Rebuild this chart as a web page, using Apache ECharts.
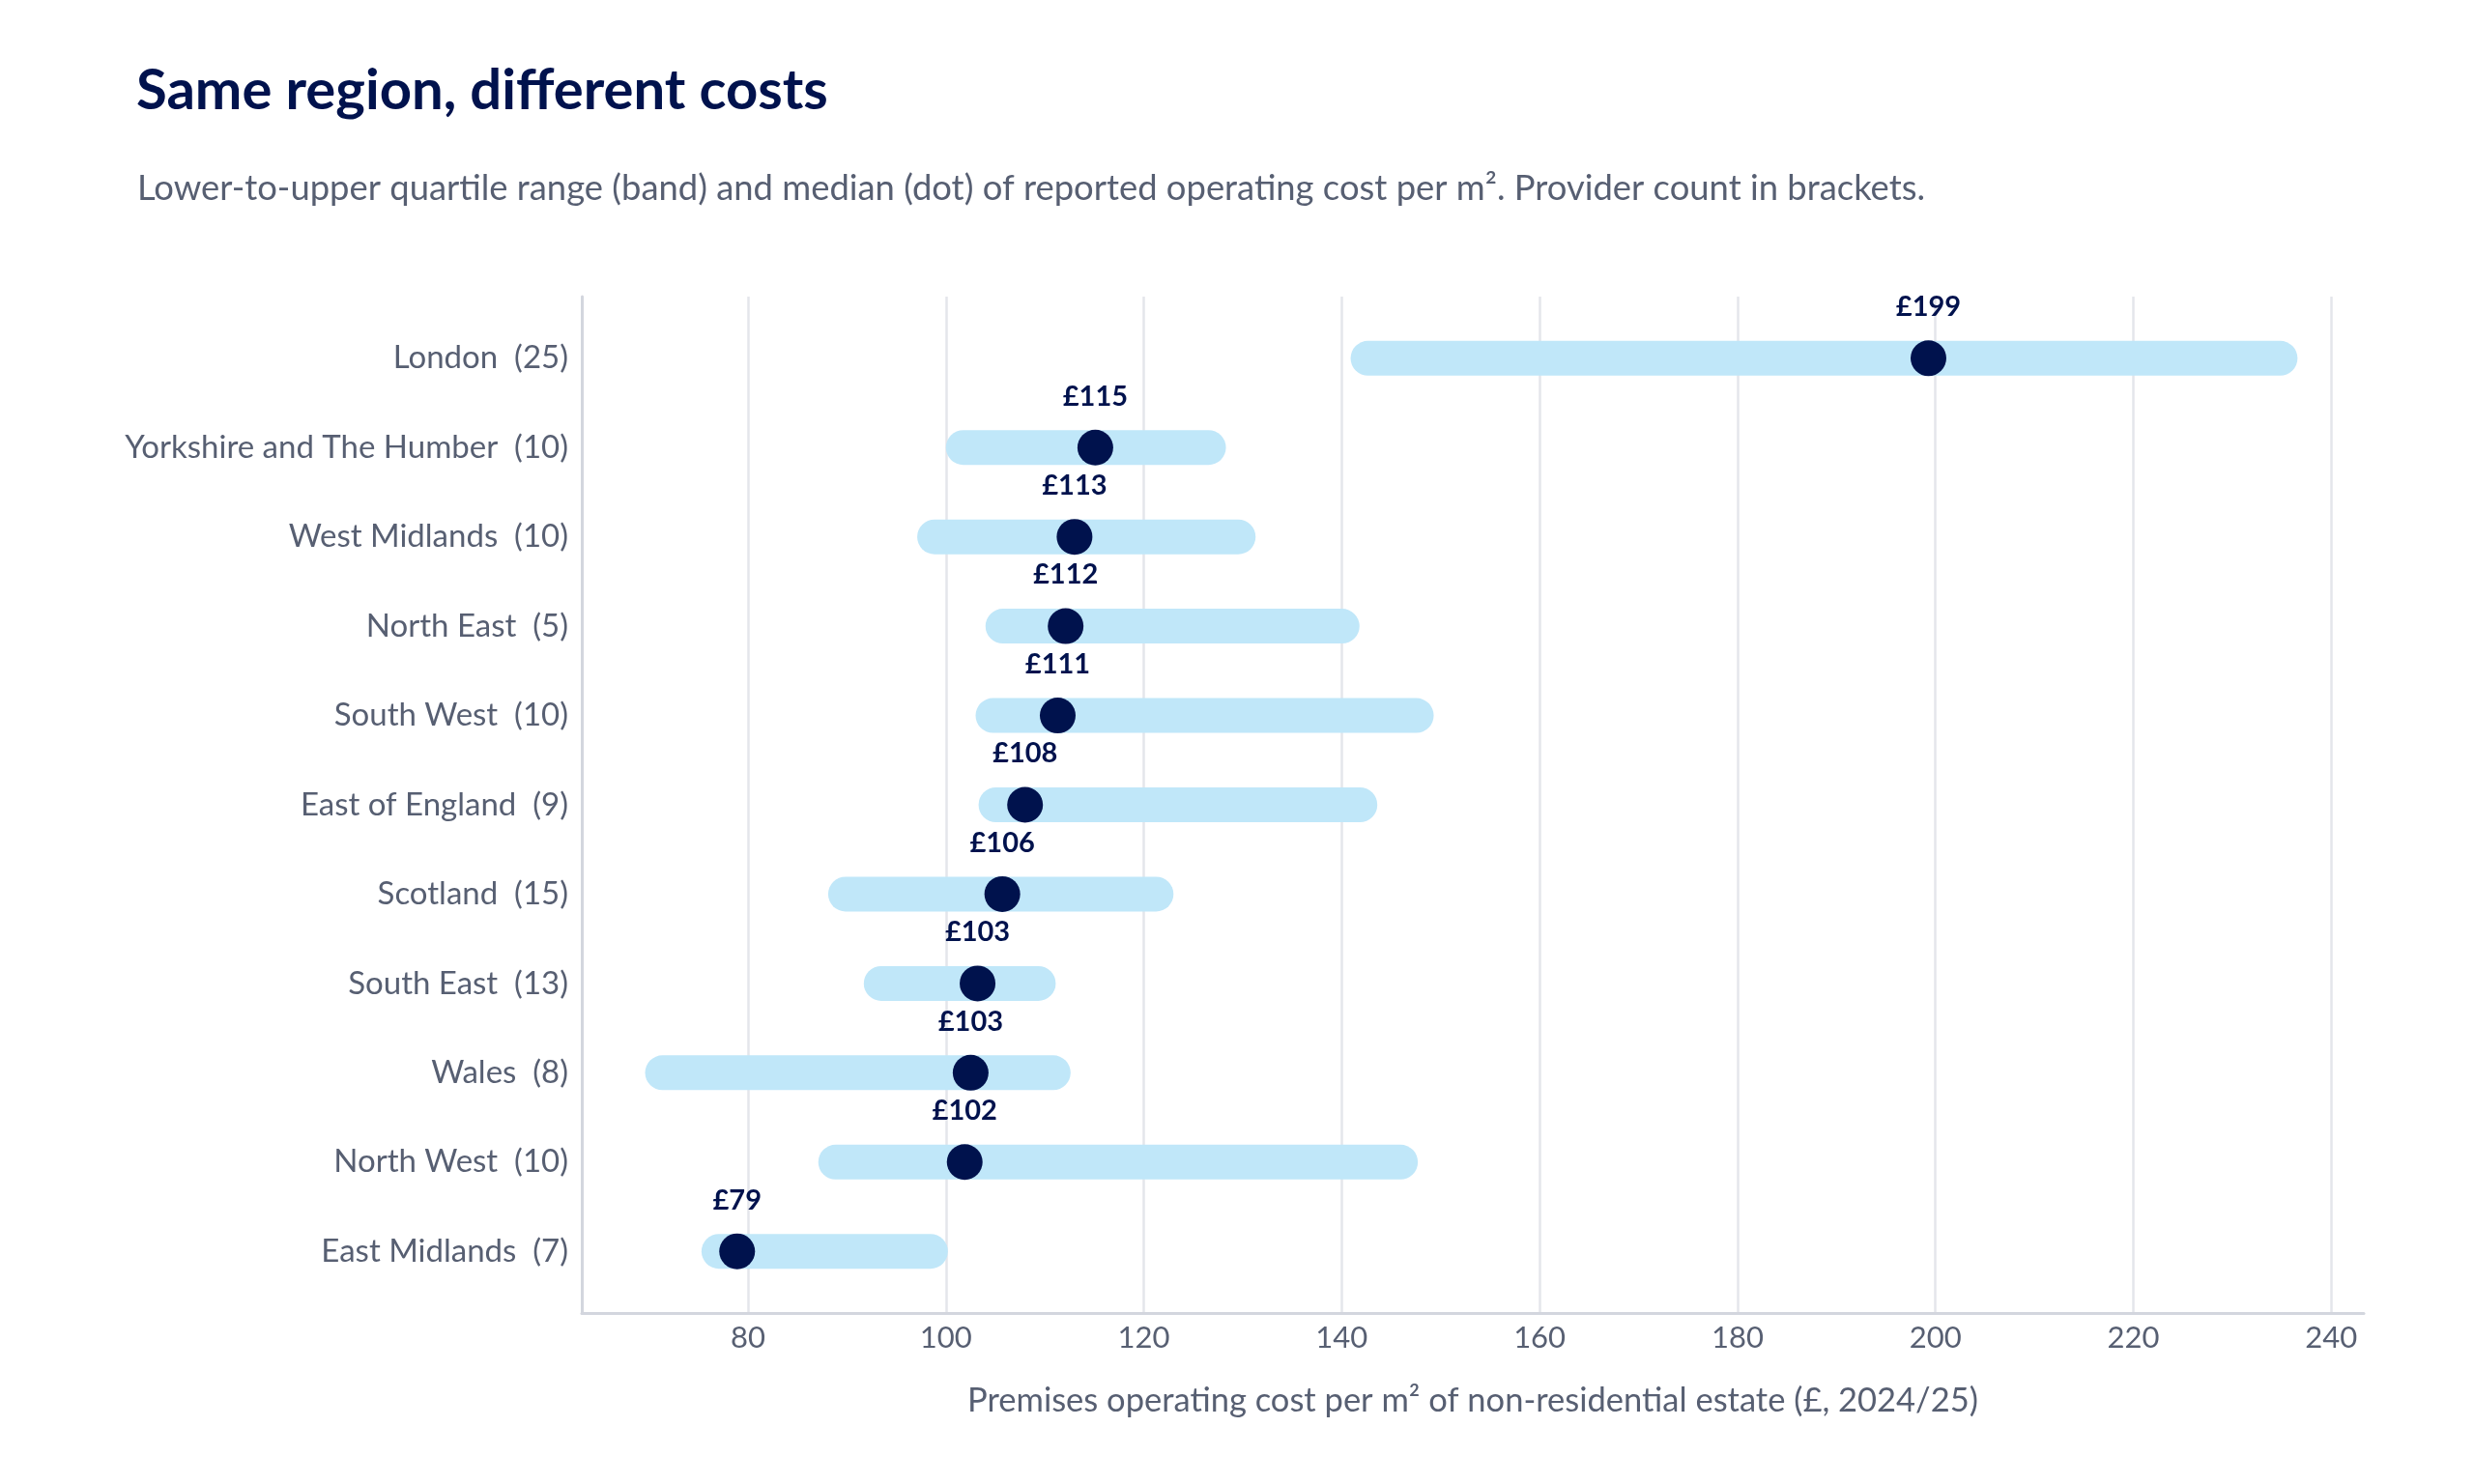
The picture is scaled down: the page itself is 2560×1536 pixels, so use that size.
<!DOCTYPE html>
<html>
<head>
<meta charset="utf-8">
<title>Same region, different costs</title>
<script src="https://cdn.jsdelivr.net/npm/echarts@6/dist/echarts.min.js"></script>
<style>
  html, body { margin: 0; padding: 0; background: #ffffff; }
  #main { width: 2560px; height: 1536px; }
</style>
</head>
<body>
<div id="main"></div>
<script>
// regions, top to bottom
var regions = ['London', 'Yorkshire and The Humber', 'West Midlands', 'North East', 'South West',
    'East of England', 'Scotland', 'South East', 'Wales', 'North West', 'East Midlands'];
var providers = [25, 10, 10, 5, 10, 9, 15, 13, 8, 10, 7];
// lower quartile, median, upper quartile (£ per m²)
var lowerQ = [140.9, 100.0, 97.1, 104.0, 103.0, 103.3, 88.1, 91.7, 69.6, 87.1, 75.3];
var median = [199.3, 115.1, 113.0, 112.1, 111.3, 108.0, 105.7, 103.2, 102.5, 101.9, 78.9];
var upperQ = [236.6, 128.3, 131.3, 141.8, 149.3, 143.6, 123.0, 111.1, 112.6, 147.7, 100.2];
var xTicks = [80, 100, 120, 140, 160, 180, 200, 220, 240];

var navy = '#00124d';
var band = '#c0e7f9';
var grey = '#575f72';
var fontFam = 'Lato, "Noto Sans", sans-serif';

var myChart = echarts.init(document.getElementById('main'));

var bandData = [];
var dotData = [];
for (var i = 0; i < regions.length; i++) {
    bandData.push([lowerQ[i], upperQ[i], i]);
    dotData.push([median[i], i]);
}

var option = {
    backgroundColor: '#ffffff',
    textStyle: { fontFamily: fontFam },
    title: [
        {
            text: 'Same region, different costs',
            left: 136,
            top: 60,
            textStyle: { fontFamily: fontFam, fontSize: 58, fontWeight: 'bold', color: navy }
        },
        {
            text: 'Lower-to-upper quartile range (band) and median (dot) of reported operating cost per m². Provider count in brackets.',
            left: 137,
            top: 172,
            textStyle: { fontFamily: fontFam, fontSize: 36.4, fontWeight: 'normal', color: grey }
        }
    ],
    grid: {
        left: 602,
        right: 114,
        top: 307,
        bottom: 177
    },
    xAxis: {
        type: 'value',
        min: 63.2,
        max: 243.3,
        name: 'Premises operating cost per m² of non-residential estate (£, 2024/25)',
        nameLocation: 'middle',
        nameGap: 73,
        nameTextStyle: { fontFamily: fontFam, fontSize: 34.5, color: grey },
        axisLine: { show: true, onZero: false, lineStyle: { color: '#d3d6de', width: 3 } },
        axisTick: { show: false, customValues: xTicks },
        axisLabel: {
            customValues: xTicks,
            fontFamily: fontFam,
            fontSize: 31,
            color: grey,
            margin: 10
        },
        splitLine: { show: true, lineStyle: { color: '#e4e6eb', width: 2.5 } }
    },
    yAxis: {
        type: 'value',
        inverse: true,
        min: -0.69,
        max: 10.69,
        axisLine: { show: true, onZero: false, lineStyle: { color: '#d3d6de', width: 3 } },
        axisTick: { show: false },
        splitLine: { show: false },
        axisLabel: {
            customValues: [0, 1, 2, 3, 4, 5, 6, 7, 8, 9, 10],
            fontFamily: fontFam,
            fontSize: 33,
            color: grey,
            margin: 14,
            padding: [7, 0, 0, 0],
            formatter: function (v) {
                return regions[v] + '  (' + providers[v] + ')';
            }
        }
    },
    series: [
        {
            type: 'custom',
            name: 'Quartile range',
            data: bandData,
            encode: { x: [0, 1], y: 2 },
            silent: true,
            renderItem: function (params, api) {
                var p1 = api.coord([api.value(0), api.value(2)]);
                var p2 = api.coord([api.value(1), api.value(2)]);
                var h = 36;
                return {
                    type: 'rect',
                    shape: { x: p1[0], y: p1[1] - h / 2, width: p2[0] - p1[0], height: h, r: h / 2 },
                    style: { fill: band }
                };
            },
            z: 2
        },
        {
            type: 'scatter',
            name: 'Median',
            data: dotData,
            symbol: 'circle',
            symbolSize: 37,
            itemStyle: { color: navy, opacity: 1 },
            label: {
                show: true,
                position: 'top',
                distance: 20,
                fontFamily: fontFam,
                fontSize: 29,
                fontWeight: 'bold',
                color: navy,
                formatter: function (p) {
                    return '£' + Math.round(p.value[0]);
                }
            },
            z: 3
        }
    ]
};
myChart.setOption(option);
</script>
</body>
</html>
